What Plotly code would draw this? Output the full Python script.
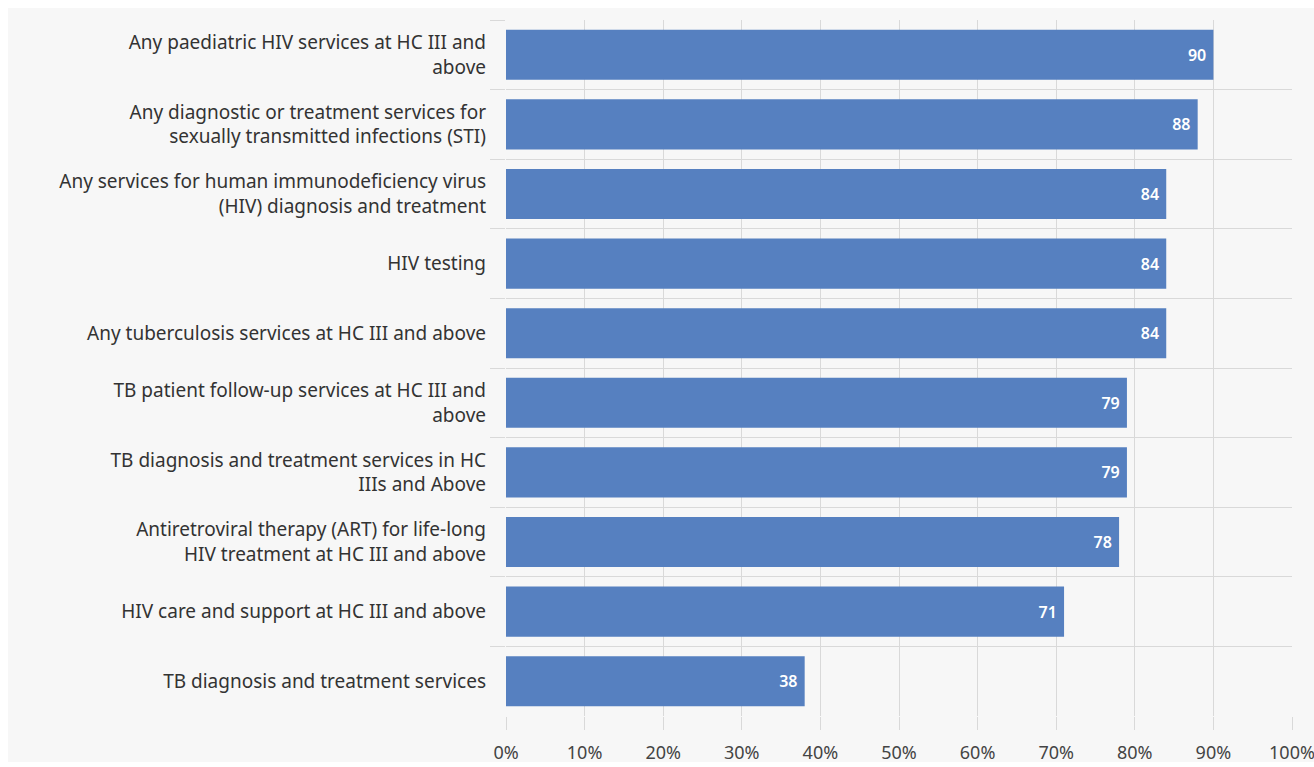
import plotly.graph_objects as go

# Share of facilities offering each HIV/STI/TB service (%)
services = [
    "Any paediatric HIV services at HC III and<br>above",
    "Any diagnostic or treatment services for<br>sexually transmitted infections (STI)",
    "Any services for human immunodeficiency virus<br>(HIV) diagnosis and treatment",
    "HIV testing",
    "Any tuberculosis services at HC III and above",
    "TB patient follow-up services at HC III and<br>above",
    "TB diagnosis and treatment services in HC<br>IIIs and Above",
    "Antiretroviral therapy (ART) for life-long<br>HIV treatment at HC III and above",
    "HIV care and support at HC III and above",
    "TB diagnosis and treatment services",
]
percent = [90, 88, 84, 84, 84, 79, 79, 78, 71, 38]

x_ticks = [0, 10, 20, 30, 40, 50, 60, 70, 80, 90, 100]
x_tick_labels = ["0%", "10%", "20%", "30%", "40%", "50%", "60%", "70%", "80%", "90%", "100%"]

BAR = "#5680c0"
GRID = "#d9d9d9"
PANEL = "#f7f7f7"

W, H = 1314, 767
L, R, T, B = 506, 22, 20, 51

fig = go.Figure(
    go.Bar(
        x=percent,
        y=services,
        orientation="h",
        marker=dict(color=BAR, line=dict(width=0)),
        text=percent,
        texttemplate="%{text}\u00a0",
        textposition="inside",
        insidetextanchor="end",
        textfont=dict(family="Noto Sans", size=16, color="white", weight=600),
        cliponaxis=False,
        width=0.72,
    )
)

# light panel behind everything, leaving a thin white frame on the top/left/bottom
pw, ph = W - L - R, H - T - B
fig.add_shape(
    type="rect", xref="paper", yref="paper", layer="below",
    x0=(8 - L) / pw, x1=(W - L) / pw,
    y0=-(H - 5 - (H - B)) / ph, y1=1 + (T - 8) / ph,
    fillcolor=PANEL, line=dict(width=0),
)

fig.update_layout(
    width=W, height=H,
    margin=dict(l=L, r=R, t=T, b=B, autoexpand=False),
    paper_bgcolor="white",
    plot_bgcolor=PANEL,
    showlegend=False,
    bargap=0.28,
    font=dict(family="Noto Sans", color="#333333"),
)

fig.update_xaxes(
    range=[0, 100],
    tickvals=x_ticks,
    ticktext=x_tick_labels,
    showgrid=True, gridcolor=GRID, gridwidth=1,
    zeroline=False, showline=False,
    ticks="outside", ticklen=13, tickcolor=GRID,
    tickfont=dict(family="Noto Sans", size=18, color="#444444"),
    ticklabelstandoff=7,
    ticklabeloverflow="allow",
    automargin=False,
)

fig.update_yaxes(
    categoryorder="array", categoryarray=services,
    autorange="reversed",
    tickson="boundaries",
    showgrid=True, gridcolor=GRID, gridwidth=1,
    zeroline=False, showline=False,
    ticks="outside", ticklen=15, tickcolor=GRID,
    tickfont=dict(family="Noto Sans", size=19, color="#333333"),
    ticklabelstandoff=19,
    automargin=False,
)

fig.write_html("out.html")
